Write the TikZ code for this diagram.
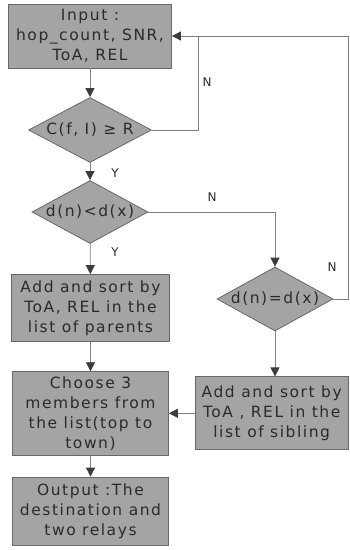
\documentclass[tikz,border=0pt]{standalone}
\usepackage{fontspec}
\setmainfont{DejaVu Sans}[LetterSpace=10]
\newfontfamily\lblfont{DejaVu Sans}
\usetikzlibrary{shapes.geometric,arrows.meta}
\definecolor{boxfill}{HTML}{A4A4A4}
\definecolor{boxline}{HTML}{686868}
\definecolor{conn}{HTML}{808080}
\definecolor{tipcol}{HTML}{3C3C3C}
\definecolor{txt}{HTML}{2B2B2B}
\tikzset{
  procbox/.style={rectangle, draw=boxline, fill=boxfill, line width=0.8pt, inner sep=0pt,
    align=center, text=txt, font=\fontsize{15.5}{20}\selectfont},
  decbox/.style={diamond, draw=boxline, fill=boxfill, line width=0.8pt, inner sep=0pt,
    aspect=1.9, text=txt, font=\fontsize{15.5}{20}\selectfont},
  conline/.style={draw=conn, line width=0.8pt},
  arr/.style={conline, -{Triangle[length=9pt,width=9pt,color=tipcol]}},
  lbl/.style={text=txt, font=\lblfont\fontsize{12}{14}\selectfont, inner sep=0pt}
}
\begin{document}
\begin{tikzpicture}[x=1pt,y=-1pt]
\useasboundingbox (0,0) rectangle (350,550);
\node[procbox, minimum width=163pt, minimum height=64pt] (in) at (90,36)
  {Input :\\hop\_count, SNR,\\ToA, REL};
\node[decbox, minimum width=123pt, minimum height=65pt] (d1) at (90,130) {C(f, I) ≥ R};
\node[decbox, minimum width=116pt, minimum height=63pt] (d2) at (90,212) {d(n)<d(x)};
\node[decbox, minimum width=116pt, minimum height=64pt] (d3) at (275,299) {d(n)=d(x)};
\node[procbox, minimum width=158pt, minimum height=67pt] (par) at (90.5,308)
  {Add and sort by\\ToA, REL in the\\list of parents};
\node[procbox, minimum width=156pt, minimum height=84pt] (cho) at (90.5,413.7)
  {Choose 3\\members from\\the list(top to\\town)};
\node[procbox, minimum width=156pt, minimum height=68pt] (out) at (90.5,511)
  {Output :The\\destination and\\two relays};
\node[procbox, minimum width=153pt, minimum height=73pt] (sib) at (271.7,413.3)
  {Add and sort by\\ToA , REL in the\\list of sibling};
\coordinate (j) at (198,36);
\draw[arr] (in) -- (d1);
\draw[arr] (d1.east) -| (j) -- (in.east);
\draw[conline] (d3.east) -- ++(15,0) |- (j);
\draw[arr] (d1) -- (d2);
\draw[arr] (d2.east) -| (d3.north);
\draw[arr] (d2) -- (par);
\draw[arr] (par) -- (cho);
\draw[arr] (d3.south) -- (d3.south |- sib.north);
\draw[arr] (sib.west) -- (sib.west -| cho.east);
\draw[arr] (cho) -- (out);
\node[lbl] (n1) at (207,82) {N};
\node[lbl] (y1) at (115,173) {Y};
\node[lbl] (n2) at (212,197) {N};
\node[lbl] (y2) at (115,252) {Y};
\node[lbl] (n3) at (332,267) {N};
\end{tikzpicture}
\end{document}
